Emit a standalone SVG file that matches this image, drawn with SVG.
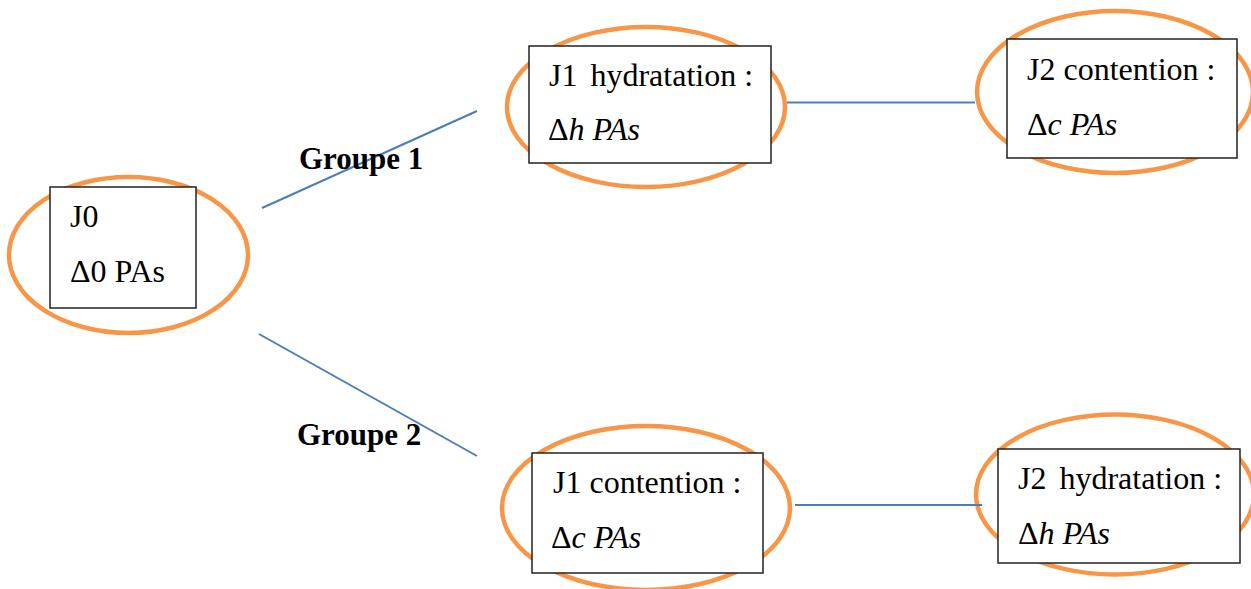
<svg xmlns="http://www.w3.org/2000/svg" width="1251" height="589" viewBox="0 0 1251 589">
<style>
.ell{fill:none;stroke:#F79646;stroke-width:4.5}
.box{fill:#fff;stroke:#222;stroke-width:1.5}
.t{font-family:"Liberation Serif","Times New Roman",serif;font-size:32px;fill:#000}
.i{font-style:italic}
.lbl{font-family:"Liberation Serif","Times New Roman",serif;font-size:31px;font-weight:bold;fill:#000}
.con{stroke:#4A7EBB;stroke-width:2;fill:none}
</style>
<rect width="1251" height="589" fill="#fff"/>
<g id="node-j0">
<ellipse class="ell" cx="128.5" cy="255" rx="119.5" ry="78"/>
<rect class="box" x="50" y="187" width="146" height="121"/>
<text class="t" x="70" y="227">J0</text>
<text class="t" x="70" y="282">Δ0 PAs</text>
</g>
<g id="node-g1-j1">
<ellipse class="ell" cx="646" cy="107" rx="139" ry="80"/>
<rect class="box" x="529" y="46" width="242" height="117"/>
<text class="t" x="549" y="86">J1 <tspan dx="5">hydratation :</tspan></text>
<text class="t" x="548" y="140">Δ<tspan class="i">h PAs</tspan></text>
</g>
<g id="node-g1-j2">
<ellipse class="ell" cx="1115" cy="92" rx="138" ry="81"/>
<rect class="box" x="1007" y="39" width="230" height="119"/>
<text class="t" x="1027" y="80">J2 contention :</text>
<text class="t" x="1027" y="135">Δ<tspan class="i">c PAs</tspan></text>
</g>
<g id="node-g2-j1">
<ellipse class="ell" cx="646" cy="508" rx="144" ry="82"/>
<rect class="box" x="532" y="453" width="231" height="120"/>
<text class="t" x="553" y="493">J1 contention :</text>
<text class="t" x="551" y="548">Δ<tspan class="i">c PAs</tspan></text>
</g>
<g id="node-g2-j2">
<ellipse class="ell" cx="1115" cy="494.5" rx="139" ry="80"/>
<rect class="box" x="998" y="449" width="242" height="114"/>
<text class="t" x="1018" y="489">J2 <tspan dx="5">hydratation :</tspan></text>
<text class="t" x="1018" y="544">Δ<tspan class="i">h PAs</tspan></text>
</g>
<g id="connectors">
<line class="con" x1="262" y1="208" x2="477" y2="111"/>
<line class="con" x1="259" y1="334" x2="477" y2="456"/>
<line class="con" x1="787" y1="102.5" x2="975" y2="102.5"/>
<line class="con" x1="795" y1="505" x2="982" y2="505"/>
</g>
<g id="labels">
<text class="lbl" x="299" y="169">Groupe 1</text>
<text class="lbl" x="297" y="445">Groupe 2</text>
</g>
</svg>
